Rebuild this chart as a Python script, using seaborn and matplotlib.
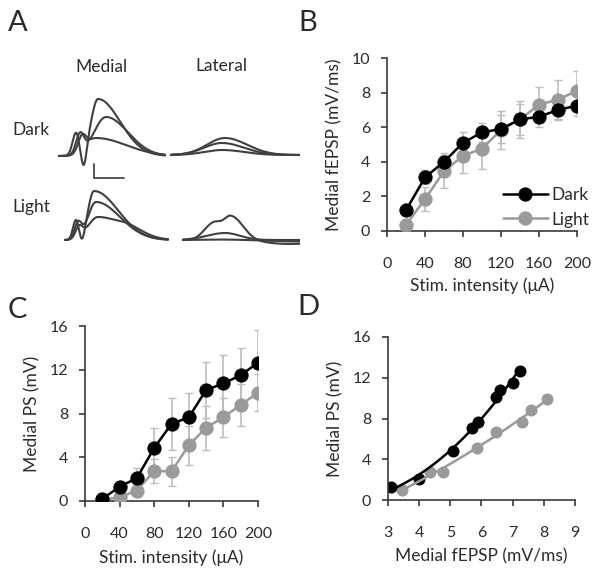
import numpy as np
import seaborn as sns
import matplotlib.pyplot as plt

sns.set_style("ticks")
plt.rcParams['font.family'] = ['Lato', 'DejaVu Sans']
plt.rcParams['text.color'] = '#2b2b2b'
plt.rcParams['axes.labelcolor'] = '#2b2b2b'
plt.rcParams['xtick.color'] = '#2b2b2b'
plt.rcParams['ytick.color'] = '#2b2b2b'

# stimulus intensities (uA)
stim = [20, 40, 60, 80, 100, 120, 140, 160, 180, 200]

# B: medial fEPSP slope (mV/ms)
b_dark = [1.2, 3.1, 4.0, 5.1, 5.7, 5.9, 6.45, 6.6, 7.0, 7.25]
b_dark_err = [0.2, 0.4, 0.5, 0.6, 0.55, 0.8, 0.9, 0.6, 0.6, 0.6]
b_light = [0.35, 1.85, 3.45, 4.35, 4.75, 5.85, 6.45, 7.3, 7.6, 8.1]
b_light_err = [0.3, 0.7, 0.95, 1.0, 1.15, 1.1, 1.05, 1.0, 1.1, 1.15]

# C: medial population spike (mV)
c_dark = [0.2, 1.3, 2.1, 4.85, 7.05, 7.65, 10.15, 10.75, 11.5, 12.65]
c_dark_err = [0.1, 0.4, 0.9, 1.8, 2.4, 2.2, 2.6, 2.6, 2.5, 3.0]
c_light = [0.1, 0.35, 0.95, 2.75, 2.7, 5.1, 6.7, 7.65, 8.8, 9.9]
c_light_err = [0.1, 0.3, 0.5, 1.1, 1.3, 1.8, 2.0, 1.8, 1.9, 1.7]

DARK = '#000000'
LIGHT = '#9a9a9a'
ERR = '#bdbdbd'
SPINE = '#3a3a3a'

# A: example traces, each component = (amplitude, centre, left width, right width) in panel px
traces = [
    # (x start, x end, baseline, components)
    (59, 165, 156, [(23, 76, 3.5, 3), (-17, 84, 2.5, 2.5), (57, 98, 7, 22)]),
    (59, 165, 156, [(20, 80, 4, 4), (39, 106, 12, 22)]),
    (59, 165, 156, [(15, 82, 4, 4), (18, 96, 10, 30)]),
    (171, 300, 155, [(17, 225, 18, 22)]),
    (171, 300, 155, [(12, 222, 18, 22)]),
    (171, 300, 155, [(5, 222, 18, 22)]),
    (65, 168, 240, [(20, 76, 3, 3), (-8, 82, 2.5, 2.5), (49, 94, 6, 24)]),
    (65, 168, 240, [(16, 78, 3.5, 3.5), (38, 96, 8, 24)]),
    (65, 168, 240, [(11, 79, 3.5, 3.5), (23, 98, 10, 26), (5, 130, 10, 15)]),
    (183, 300, 240, [(16, 213, 9, 7), (24, 231, 8, 12), (-4, 290, 25, 30)]),
    (183, 300, 240, [(7, 225, 18, 15)]),
    (183, 300, 240, [(0.5, 225, 20, 20), (-1.5, 300, 30, 30)]),
]


def bump(x, amp, c, wl, wr):
    w = np.where(x < c, wl, wr)
    return amp * np.exp(-((x - c) ** 2) / (2 * w ** 2))


fig = plt.figure(figsize=(6, 5.79), dpi=100)


def fx(px):
    return px / 600


def fy(py):
    return 1 - py / 579


# ---- panel A
ax_a = fig.add_axes([0, fy(290), fx(300), 290 / 579])
ax_a.set_xlim(0, 300)
ax_a.set_ylim(290, 0)
ax_a.axis('off')
for x0, x1, base, comps in traces:
    xs = np.linspace(x0, x1, 400)
    ys = np.zeros_like(xs)
    for amp, c, wl, wr in comps:
        ys += bump(xs, amp, c, wl, wr)
    ax_a.plot(xs, base - ys, color='#404040', lw=1.5)
ax_a.plot([94, 94, 124], [164, 178, 178], color='#555555', lw=1.4)
ax_a.text(101, 67, 'Medial', ha='center', va='center', fontsize=12.5)
ax_a.text(221, 66, 'Lateral', ha='center', va='center', fontsize=12.5)
ax_a.text(31, 130, 'Dark', ha='center', va='center', fontsize=12.5)
ax_a.text(31, 207, 'Light', ha='center', va='center', fontsize=12.5)


def style(ax):
    sns.despine(ax=ax)
    for s in ('left', 'bottom'):
        ax.spines[s].set_color(SPINE)
        ax.spines[s].set_linewidth(1.2)
    ax.tick_params(colors=SPINE, labelcolor='#2b2b2b', labelsize=11.5, length=4, width=1.2)
    ax.tick_params(axis='x', pad=15)
    ax.tick_params(axis='y', pad=8)


def errbars(ax, y, err):
    ax.errorbar(stim, y, yerr=err, fmt='none', ecolor=ERR, elinewidth=1.2, capsize=3, zorder=1)


# ---- panel B
ax_b = fig.add_axes([fx(387), fy(231), fx(577 - 387), (231 - 58) / 579])
errbars(ax_b, b_light, b_light_err)
errbars(ax_b, b_dark, b_dark_err)
sns.lineplot(x=stim, y=b_dark, color=DARK, marker='o', markersize=9.5, markeredgecolor=DARK,
             lw=1.8, ax=ax_b, label='Dark', zorder=4)
sns.lineplot(x=stim, y=b_light, color=LIGHT, marker='o', markersize=9.5, markeredgecolor=LIGHT,
             lw=1.8, ax=ax_b, label='Light', zorder=3)
ax_b.set_xlim(0, 200)
ax_b.set_ylim(0, 10)
ax_b.set_xticks(range(0, 201, 40))
ax_b.set_yticks(range(0, 11, 2))
style(ax_b)
ax_b.set_xlabel('Stim. intensity (\u03bcA)', fontsize=12.5, labelpad=4)
ax_b.set_ylabel('Medial fEPSP (mV/ms)', fontsize=12.5, labelpad=7)
ax_b.legend(loc='lower right', bbox_to_anchor=(1.12, -0.04), frameon=False, fontsize=12.5,
            handlelength=2.6, handletextpad=0.2, labelspacing=0.5, borderaxespad=0.2)

# ---- panel C
ax_c = fig.add_axes([fx(85), fy(501), fx(258 - 85), (501 - 326) / 579])
errbars(ax_c, c_light, c_light_err)
errbars(ax_c, c_dark, c_dark_err)
sns.lineplot(x=stim, y=c_light, color=LIGHT, marker='o', markersize=9.5, markeredgecolor=LIGHT,
             lw=1.8, ax=ax_c, zorder=3)
sns.lineplot(x=stim, y=c_dark, color=DARK, marker='o', markersize=9.5, markeredgecolor=DARK,
             lw=1.8, ax=ax_c, zorder=4)
ax_c.set_xlim(0, 200)
ax_c.set_ylim(0, 16)
ax_c.set_xticks(range(0, 201, 40))
ax_c.set_yticks(range(0, 17, 4))
style(ax_c)
ax_c.set_xlabel('Stim. intensity (\u03bcA)', fontsize=12.5, labelpad=6)
ax_c.set_ylabel('Medial PS (mV)', fontsize=12.5, labelpad=7)

# ---- panel D: PS vs fEPSP, quadratic fits
ax_d = fig.add_axes([fx(388), fy(500), fx(575 - 388), (500 - 337) / 579])
bd, cd = np.array(b_dark), np.array(c_dark)
bl, cl = np.array(b_light), np.array(c_light)
md, ml = bd > 3, bl > 3
sns.regplot(x=bl[ml], y=cl[ml], order=2, ci=None, ax=ax_d, color=LIGHT, truncate=True,
            scatter_kws={'s': 75, 'alpha': 1, 'linewidths': 0}, line_kws={'lw': 1.8})
sns.regplot(x=bd[md], y=cd[md], order=2, ci=None, ax=ax_d, color=DARK, truncate=True,
            scatter_kws={'s': 75, 'alpha': 1, 'linewidths': 0}, line_kws={'lw': 1.8})
ax_d.set_xlim(3, 9)
ax_d.set_ylim(0, 16)
ax_d.set_xticks(range(3, 10))
ax_d.set_yticks(range(0, 17, 4))
style(ax_d)
ax_d.set_xlabel('Medial fEPSP (mV/ms)', fontsize=12.5, labelpad=6)
ax_d.set_ylabel('Medial PS (mV)', fontsize=12.5, labelpad=7)

# panel letters
for letter, px, py in [('A', 18, 23), ('B', 308, 23), ('C', 17, 310), ('D', 308, 307)]:
    fig.text(fx(px), fy(py), letter, fontsize=21, ha='center', va='center')

fig.savefig('out.png', dpi=100)
